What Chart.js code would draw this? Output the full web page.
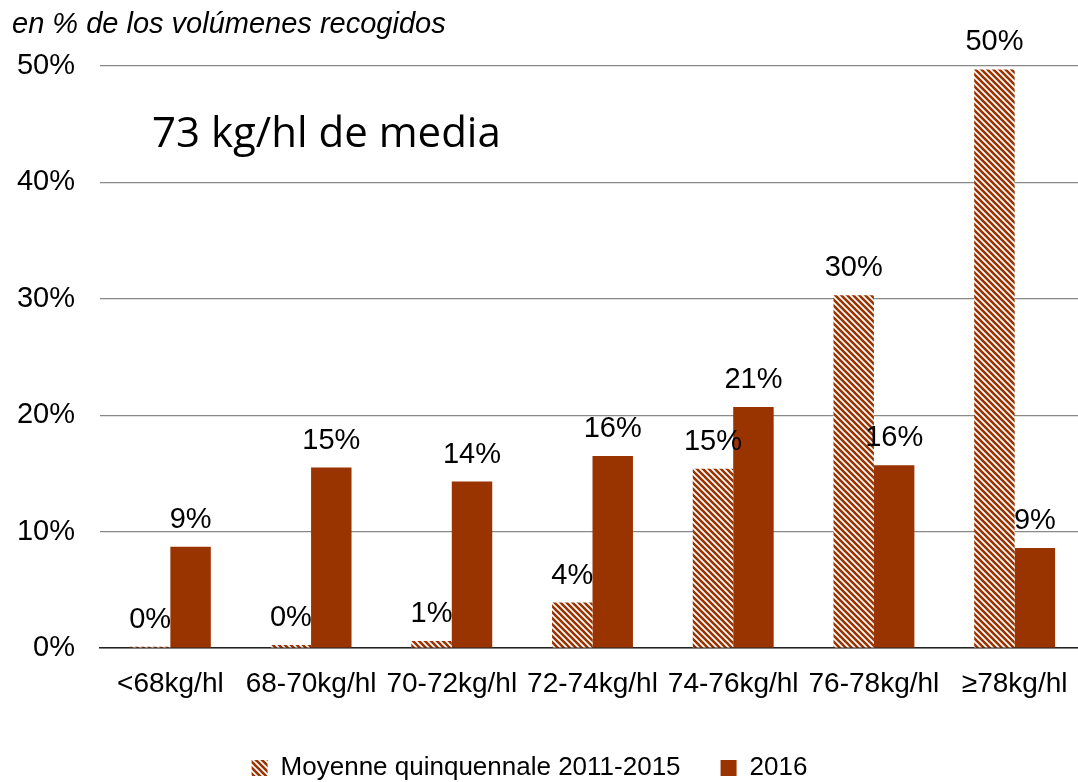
<!DOCTYPE html>
<html>
<head>
<meta charset="utf-8">
<script src="https://cdn.jsdelivr.net/npm/chart.js@4"></script>
<style>
  html, body { margin: 0; padding: 0; background: #fff; overflow: hidden; }
  #wrap { width: 1078px; height: 782px; overflow: hidden; position: relative; }
</style>
</head>
<body>
<div id="wrap"><canvas id="chart" width="1100" height="791"></canvas></div>
<script>
// categories and values, in % of volumes collected
const categories = ["<68kg/hl", "68-70kg/hl", "70-72kg/hl", "72-74kg/hl", "74-76kg/hl", "76-78kg/hl", "≥78kg/hl"];
const avgValues = [0.1, 0.25, 0.6, 3.9, 15.4, 30.3, 49.7];
const avgLabels = ["0%", "0%", "1%", "4%", "15%", "30%", "50%"];
const values2016 = [8.7, 15.5, 14.3, 16.5, 20.7, 15.7, 8.6];
const labels2016 = ["9%", "15%", "14%", "16%", "21%", "16%", "9%"];
const yTicks = [0, 10, 20, 30, 40, 50];

const BROWN = "#993300";
const FONT = "'Liberation Sans', Arial, sans-serif";

// diagonal hatch for the five-year average
function makeHatch() {
  const c = document.createElement("canvas");
  c.width = 6;
  c.height = 6;
  const g = c.getContext("2d");
  g.fillStyle = "#ffffff";
  g.fillRect(0, 0, 6, 6);
  g.strokeStyle = BROWN;
  g.lineWidth = 2.6;
  g.beginPath();
  g.moveTo(-3, -3); g.lineTo(9, 9);
  g.moveTo(-3, 3); g.lineTo(3, 9);
  g.moveTo(3, -3); g.lineTo(9, 3);
  g.stroke();
  return g.createPattern(c, "repeat");
}

// percentage labels over each bar
const valueLabels = {
  id: "valueLabels",
  afterDatasetsDraw(chart) {
    const ctx = chart.ctx;
    const texts = [avgLabels, labels2016];
    ctx.save();
    ctx.font = "29px " + FONT;
    ctx.fillStyle = "#000";
    ctx.textAlign = "center";
    ctx.textBaseline = "alphabetic";
    chart.data.datasets.forEach((ds, i) => {
      chart.getDatasetMeta(i).data.forEach((bar, j) => {
        ctx.fillText(texts[i][j], bar.x, bar.y - 19);
      });
    });
    ctx.restore();
  }
};

const extraText = {
  id: "extraText",
  afterLayout(chart) {
    // legend sits a little left of centre in the original
    chart.legend.left -= 13;
    chart.legend.right -= 13;
  },
  afterDraw(chart) {
    const ctx = chart.ctx;
    ctx.save();
    ctx.fillStyle = "#000";
    ctx.textBaseline = "alphabetic";
    ctx.textAlign = "left";
    ctx.font = "italic 29px " + FONT;
    ctx.fillText("en % de los volúmenes recogidos", 12, 33);
    ctx.font = "42px 'Open Sans', sans-serif";
    ctx.fillText("73 kg/hl de media", 152, 147);
    ctx.restore();
  }
};

new Chart(document.getElementById("chart"), {
  type: "bar",
  data: {
    labels: categories,
    datasets: [
      {
        label: "Moyenne quinquennale 2011-2015",
        data: avgValues,
        backgroundColor: makeHatch(),
        borderWidth: 0
      },
      {
        label: "2016",
        data: values2016,
        backgroundColor: BROWN,
        borderWidth: 0
      }
    ]
  },
  options: {
    responsive: false,
    animation: false,
    layout: { padding: { top: 66, right: 15, left: 0, bottom: 0 } },
    datasets: {
      bar: { categoryPercentage: 0.575, barPercentage: 1 }
    },
    scales: {
      x: {
        grid: { display: false, drawTicks: false },
        border: { display: true, color: "#222", width: 1.5 },
        ticks: { color: "#000", font: { family: FONT, size: 28 }, padding: 19, maxRotation: 0, autoSkip: false },
        afterFit(scale) { scale.height = 67; }
      },
      y: {
        min: 0,
        max: 50,
        afterBuildTicks(scale) { scale.ticks = yTicks.map(v => ({ value: v })); },
        grid: { color: "#888", lineWidth: 1.2, drawTicks: false },
        border: { display: false },
        ticks: {
          color: "#000",
          font: { family: FONT, size: 29 },
          padding: 25,
          callback: v => v + "%"
        },
        afterFit(scale) { scale.width = 100; }
      }
    },
    plugins: {
      legend: {
        position: "bottom",
        labels: {
          color: "#000",
          font: { family: FONT, size: 26 },
          boxWidth: 16,
          boxHeight: 16,
          padding: 40
        }
      },
      tooltip: { enabled: false }
    }
  },
  plugins: [valueLabels, extraText]
});
</script>
</body>
</html>
